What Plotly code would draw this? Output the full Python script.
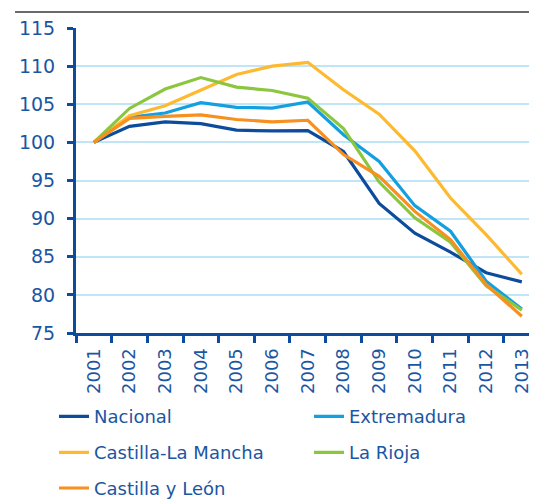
import plotly.graph_objects as go

years = ["2001", "2002", "2003", "2004", "2005", "2006", "2007",
         "2008", "2009", "2010", "2011", "2012", "2013"]

nacional = [100, 102.1, 102.7, 102.45, 101.6, 101.5, 101.55, 98.8, 92.0, 88.1, 85.6, 82.9, 81.7]
extremadura = [100, 103.3, 103.85, 105.2, 104.6, 104.5, 105.3, 101.0, 97.5, 91.7, 88.35, 81.8, 78.15]
castilla_la_mancha = [100, 103.5, 104.8, 106.9, 108.9, 110.0, 110.5, 106.9, 103.7, 98.9, 92.7, 87.9, 82.7]
la_rioja = [100, 104.45, 107.0, 108.5, 107.25, 106.8, 105.8, 101.8, 94.8, 90.1, 86.9, 81.2, 78.0]
castilla_y_leon = [100, 103.15, 103.4, 103.6, 103.0, 102.7, 102.9, 98.4, 95.55, 90.95, 87.25, 81.35, 77.2]

AXIS = "#0d4c9c"
TXT = "#1a56a2"
FONT = "DejaVu Sans"

# name, values, colour, legend id, legend x (paper), legend y (paper)
series = [
    ("Nacional", nacional, "#0d4c9c", "legend", 0.0857, -0.2575),
    ("Extremadura", extremadura, "#14a0e0", "legend2", 0.5605, -0.2575),
    ("Castilla-La Mancha", castilla_la_mancha, "#fdb930", "legend3", 0.0857, -0.3683),
    ("La Rioja", la_rioja, "#8cc63f", "legend4", 0.5605, -0.3683),
    ("Castilla y León", castilla_y_leon, "#f7901e", "legend5", 0.0857, -0.4778),
]

fig = go.Figure()
legends = {}
for name, vals, col, lg, lx, ly in series:
    fig.add_trace(go.Scatter(x=years, y=vals, name=name, mode="lines",
                             line=dict(color=col, width=3.2), legend=lg))
    legends[lg] = dict(x=lx, y=ly, xanchor="left", yanchor="middle",
                       font=dict(family=FONT, size=18, color=TXT),
                       bgcolor="rgba(0,0,0,0)", borderwidth=0)

# empty helper trace so the grey top rule (an axis line) gets drawn
fig.add_trace(go.Scatter(x=[None], y=[None], xaxis="x2", yaxis="y2",
                         showlegend=False, hoverinfo="skip"))

fig.update_layout(
    width=537, height=500,
    margin=dict(l=0, r=0, t=0, b=175, autoexpand=False),
    paper_bgcolor="white", plot_bgcolor="rgba(0,0,0,0)",
    font=dict(family=FONT, size=18, color=TXT),
    showlegend=True,
    xaxis=dict(type="category", categoryarray=years, range=[-0.5, 12.65],
               domain=[68 / 537, 1], anchor="y",
               tickangle=-90, tickson="boundaries", ticks="outside",
               ticklen=7, tickwidth=3, tickcolor=AXIS, automargin=False,
               ticklabelstandoff=5,
               showline=True, linecolor=AXIS, linewidth=3,
               showgrid=False, tickfont=dict(family=FONT, size=18, color=TXT)),
    yaxis=dict(range=[75, 115], dtick=5, tick0=75, ticks="outside",
               domain=[0, 305 / 325], anchor="x",
               ticklen=6, tickwidth=3, tickcolor=AXIS, automargin=False,
               ticklabelstandoff=8,
               showline=True, linecolor=AXIS, linewidth=3,
               showgrid=True, gridcolor="#bfe5f6", gridwidth=1.5,
               zeroline=False, tickfont=dict(family=FONT, size=19, color=TXT)),
    xaxis2=dict(domain=[7 / 537, 1], anchor="free", position=(325 - 4) / 325,
                range=[0, 1], showline=True, linecolor="#6a6a6a", linewidth=2,
                showticklabels=False, ticks="", showgrid=False, zeroline=False,
                automargin=False, fixedrange=True),
    yaxis2=dict(domain=[0.98, 1], anchor="x2", range=[0, 1], visible=False,
                showgrid=False, zeroline=False, automargin=False, fixedrange=True),
)
fig.update_layout(**legends)

fig.write_html("out.html")
